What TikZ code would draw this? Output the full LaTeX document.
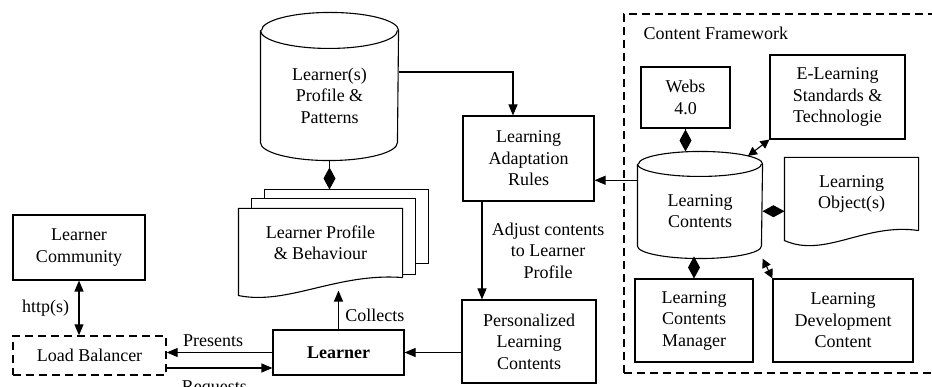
\documentclass[tikz,border=0pt]{standalone}
\usepackage{fontspec}
\setmainfont{Liberation Serif}
\usepackage{tikz}
\usetikzlibrary{
  arrows.meta,
  positioning,  % relative placement
  calc,         % Calculations $...$
}
% Cylinder outline round a node: name, x radius, y radius
\newcommand{\cylshape}[3]{
  \draw (#1.north west) -- ([yshift=#3]#1.south west)
    arc[start angle=180, end angle=360, x radius=#2, y radius=#3]
    -- (#1.north east)
    arc[start angle=0, end angle=180, x radius=#2, y radius=#3];
  \draw (#1.north west) arc[start angle=180, end angle=360, x radius=#2, y radius=#3];
}
% Document outline round a node: name, drop of left corner, dip, rise
\newcommand{\docshape}[4]{
  \draw (#1.south east) -- (#1.north east) -- (#1.north west)
    -- ($(#1.south west)+(0,#2)$)
    .. controls ($(#1.south west)!0.3!(#1.south east)+(0,#2+#3)$)
    and ($(#1.south west)!0.6!(#1.south east)+(0,-#4)$) .. (#1.south east);
}
\tikzset{
  font=\fontsize{18}{21.5}\selectfont,
  >={Triangle[length=11pt,width=9pt]},
  box/.style={
    draw,
    rectangle,
    align=center,
    inner sep=2pt
  },
  dashbox/.style={
    box,
    dash pattern=on 8pt off 5pt,
    line width=1.4pt
  },
  plain/.style={
    rectangle,
    align=center,
    inner sep=2pt
  },
  dia/.style={
    -{Diamond[length=22pt,width=12pt]}
  },
  short both/.style={
    {Triangle[length=9pt,width=9pt]}-{Triangle[length=9pt,width=9pt]}
  }
}
\begin{document}
\begin{tikzpicture}[x=1pt, y=-1pt, line width=1.1pt]
\useasboundingbox (0,0) rectangle (932,387);

\node[dashbox, minimum width=321pt, minimum height=359pt] (cf) at (784.5,193.5) {};
\node[plain, anchor=west] (cft) at (641,33) {Content Framework};

\node[box, minimum width=132pt, minimum height=65pt] (comm) at (79,247.5) {Learner\\Community};
\node[dashbox, minimum width=153pt, minimum height=39pt] (lb) at (89.5,355.5) {Load Balancer};
\node[box, minimum width=131pt, minimum height=45pt] (learner) at (338.5,352.5) {\textbf{Learner}};
\node[plain, minimum width=163pt, minimum height=68pt] (lpb) at (320.5,243) {Learner Profile\\\& Behaviour};
\node[plain, minimum width=137pt, minimum height=129pt] (lp) at (329.5,95.5) {Learner(s)\\Profile \&\\Patterns};
\node[box, minimum width=131pt, minimum height=85pt] (lar) at (528.5,158.5) {Learning\\Adaptation\\Rules};
\node[box, minimum width=134pt, minimum height=83pt] (plc) at (529,341.5) {Personalized\\Learning\\Contents};
\node[box, minimum width=89pt, minimum height=61pt] (webs) at (685.5,97.5) {Webs\\4.0};
\node[box, minimum width=135pt, minimum height=84pt] (els) at (837.5,97) {E-Learning\\Standards \&\\Technologie};
\node[plain, minimum width=124pt, minimum height=93.5pt] (lc) at (700,211.25) {Learning\\Contents};
\node[plain, minimum width=133pt, minimum height=72pt] (lo) at (851.5,194) {Learning\\Object(s)};
\node[box, minimum width=118pt, minimum height=83pt] (lcm) at (694,320.5) {Learning\\Contents\\Manager};
\node[box, minimum width=140pt, minimum height=83pt] (ldc) at (843,320.5) {Learning\\Development\\Content};

% outlines
\cylshape{lp}{68.5pt}{18pt}
\cylshape{lc}{62pt}{12.5pt}
\draw ($(lpb.north west)+(26,-10)$) -- ++(0,-9) -| ($(lpb.south east)+(26,-14)$) -- ++(-13,0);
\draw ($(lpb.north west)+(13,0)$) -- ++(0,-10) -| ($(lpb.south east)+(13,-3)$) -- ++(-13,0);
\docshape{lpb}{18}{10}{5}
\docshape{lo}{10}{18}{8}

% connectors
\draw[<->] (comm.south) -- (comm.south |- lb.north) node[midway, left=6pt] (http) {http(s)};
\draw[->] (learner.west) -- (learner.west -| lb.east) node[pos=0.56, above=2pt] (pres) {Presents};
\draw[->] ([yshift=-12.5pt]lb.east) -- ([yshift=-12.5pt]lb.east -| learner.west) node[pos=0.45, below=9pt] (req) {Requests};
\draw[->] (learner.north) -- ([yshift=-13pt]learner.north |- lpb.south) node[pos=0.35, right=3pt] (coll) {Collects};
\draw[dia] (lp.south) -- ([yshift=19pt]lp.south |- lpb.north);
\draw[->] ([yshift=23.5pt]lp.east) -| ([xshift=-15.5pt]lar.north);
\draw[->] ([xshift=-46.5pt]lar.south) -- ([xshift=-46.5pt]lar.south |- plc.north)
  node[midway, right=6pt, align=center] (adj) {Adjust contents\\to Learner\\Profile};
\draw[->] (plc.west |- learner.east) -- (learner.east);
\draw[->] ([yshift=31pt]lc.west) -- ([yshift=31pt]lc.west -| lar.east);
\draw[dia] (webs.south) -- ([yshift=12.5pt]webs.south |- lc.north);
\draw[short both] (els.south west) -- ([xshift=48pt,yshift=8pt]lc.north);
\draw[dia] (lc.east) -- (lc.east -| lo.west);
\draw[dia] (lcm.north |- lc.south) -- (lcm.north);
\draw[short both] (ldc.north west) -- (lc.south east);
\end{tikzpicture}
\end{document}
